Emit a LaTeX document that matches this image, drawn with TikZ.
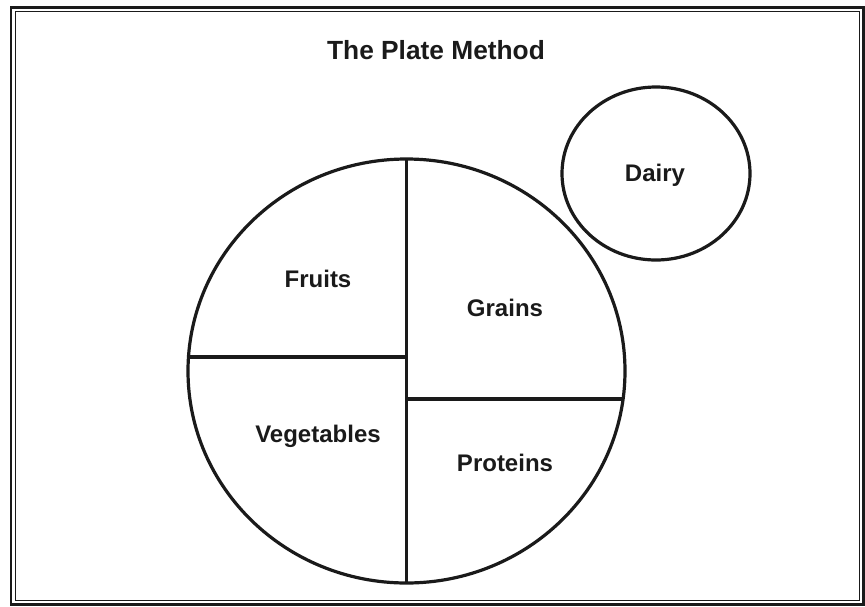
\documentclass[tikz,border=0pt]{standalone}
\usepackage{fontspec}
\setmainfont{Liberation Sans}
\usetikzlibrary{shapes.geometric}
\definecolor{ink}{HTML}{1A1A1A}
\tikzset{
  outline/.style={draw=ink, line width=3.2pt},
  divider/.style={draw=ink, line width=3.2pt},
  label/.style={font=\bfseries\fontsize{24}{28}\selectfont, text=ink, inner sep=0pt},
  frame/.style={draw=ink},
}
\begin{document}
\begin{tikzpicture}[x=1pt,y=-1pt]
\useasboundingbox (0,0) rectangle (865,606);
% double border
\draw[frame, line width=2.4pt] (11,7.5) rectangle (863.5,604.5);
\draw[frame, line width=1.3pt] (15.5,11.5) rectangle (859.5,600.5);
% title
\node[label, font=\bfseries\fontsize{26.3}{30}\selectfont] (title) at (436,50) {The Plate Method};
% plate
\node[ellipse, outline, minimum width=437pt, minimum height=424pt, inner sep=0pt, outer sep=0pt] (plate) at (406.5,371) {};
\coordinate (vtop) at (406.7,159);
\coordinate (vbot) at (406.7,583);
\coordinate (lleft) at (188.5,357);
\coordinate (lmid) at (406.7,357);
\coordinate (rmid) at (406.7,399);
\coordinate (rright) at (623,399);
\draw[divider] (vtop) -- (vbot);
\draw[divider] (lleft) -- (lmid);
\draw[divider] (rmid) -- (rright);
% labels
\node[label] (fruits) at (318,279) {Fruits};
\node[label] (grains) at (505,308) {Grains};
\node[label] (veg) at (318,436) {Vegetables};
\node[label] (prot) at (505,463) {Proteins};
% dairy
\node[ellipse, outline, minimum width=188pt, minimum height=173pt, inner sep=0pt, outer sep=0pt] (dairycirc) at (656,173.5) {};
\node[label] (dairy) at (655,175) {Dairy};
\end{tikzpicture}
\end{document}
